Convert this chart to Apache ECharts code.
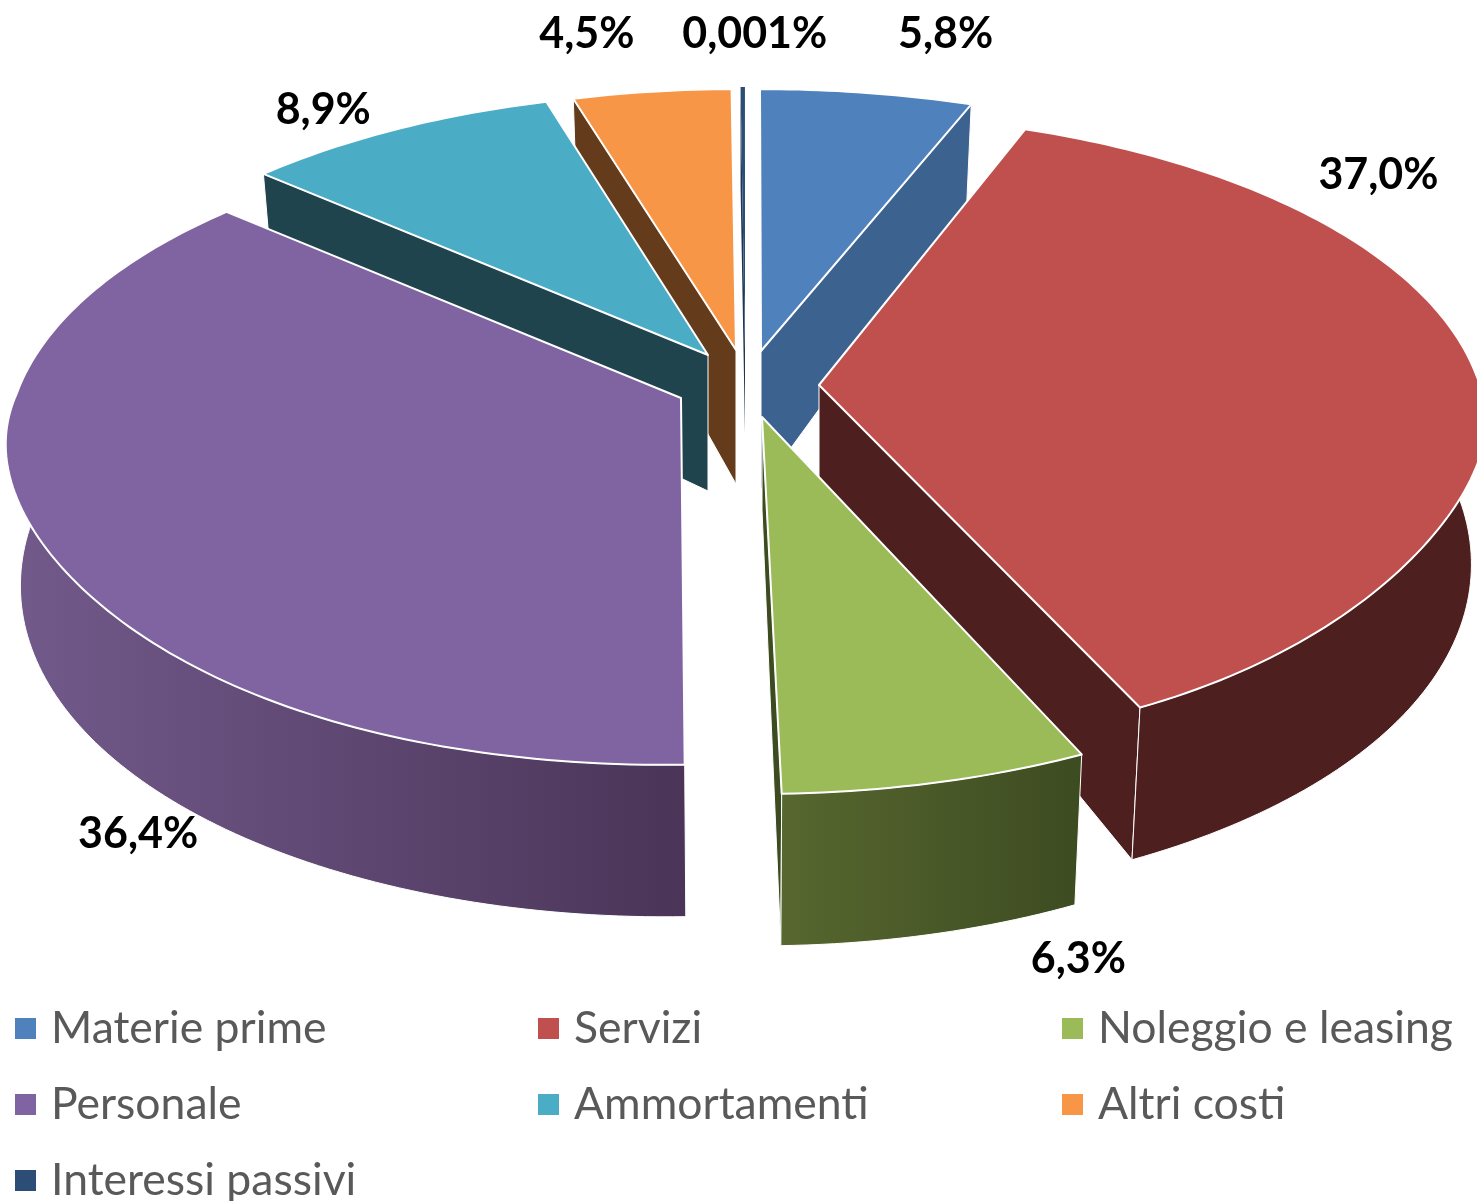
<!DOCTYPE html>
<html>
<head>
<meta charset="utf-8">
<style>html,body{margin:0;padding:0;background:#fff}#c{width:1477px;height:1201px}</style>
<script src="https://cdn.jsdelivr.net/npm/echarts@6/dist/echarts.min.js"></script>
</head>
<body>
<div id="c"></div>
<script>
// ---- data ----
const categories = ['Materie prime','Servizi','Noleggio e leasing','Personale','Ammortamenti','Altri costi','Interessi passivi'];
const values = [5.8, 37.0, 6.3, 36.4, 8.9, 4.5, 0.001];
const labelDecimals = [1, 1, 1, 1, 1, 1, 3];

// ---- styles ----
const topColors  = ['#4f81bd','#c0504d','#9bbb59','#8064a2','#4bacc6','#f79646','#2c4d75'];
const wallStart  = ['#3c6290','#4e1f1f','#57672f','#725a8b','#1f444e','#653c1b','#1f3654'];
const wallEnd    = ['#3c6290','#4e1f1f','#3d4b21','#4a3558','#1f444e','#653c1b','#1f3654'];
const drawOrder  = [5, 6, 4, 0, 3, 1, 2];
// which faces of each wedge look towards the viewer
const showStartWall = [false,false,false,false,true,true,true];
const showEndWall   = [true,true,true,false,false,false,false];
const showRimWall   = [false,true,true,true,false,false,false];

// ---- 3D geometry of the exploded disc (style parameters) ----
const radiusX = 655, radiusY = 308, persp = 0.1716, vanishX = 740, bottomScale = 0.98;
const minSweep = 0.45;
const apex = [[761,351],[819,385],[762,417],[681,398],[708,355],[736,350],[745,350]];
const apexDepth = [138, 93, 93, 92, 136, 134, 83];
const rimShift = [[-1,1],[3,-8],[-1,5],[-9,-5],[1,0],[0,2],[0,0]];
const rimScaleX = [1.04,1,1,1,1,1,1];
const rimShear = [0,-3,0,-8,0,0,0];
const rimBulge = [0,-70,0,-40,0,0,0];
const labelNudge = [[82,-58],[-92,-201],[140,182],[96,294],[-73,-19],[-65,-56],[12,-53]];

const total = values.reduce((a, b) => a + b, 0);
const sweeps = values.map(v => Math.max(minSweep, v / total * (360 - minSweep)));
const starts = [];
sweeps.reduce((acc, s, i) => (starts[i] = acc, acc + s), 0);

function basePoint(i, deg) {
  const t = deg * Math.PI / 180, u = -Math.cos(t), s = 1 / (1 - persp * u);
  return [apex[i][0] + radiusX * Math.sin(t) * s, apex[i][1] + radiusY * u * s];
}
function rimPoint(i, deg) {
  const t = deg * Math.PI / 180, u = -Math.cos(t), s = 1 / (1 - persp * u);
  return [apex[i][0] + rimShift[i][0] + radiusX * rimScaleX[i] * Math.sin(t) * s + rimShear[i] * Math.max(0, u),
          apex[i][1] + rimShift[i][1] + radiusY * u * s];
}
function topPoint(i, deg) {
  const p = rimPoint(i, deg), t = deg * Math.PI / 180, sn = Math.sin(t);
  return [p[0], p[1] + rimBulge[i] * Math.max(0, -Math.cos(t)) * sn * sn * sn * sn];
}
function bottomPoint(i, deg) {
  const p = rimPoint(i, deg), u = -Math.cos(deg * Math.PI / 180);
  return [vanishX + (p[0] - vanishX) * bottomScale, p[1] + 130 + 26 * u - 4 * u * u];
}
function arc(fn, i, a0, a1) {
  const n = Math.max(2, Math.ceil(Math.abs(a1 - a0))), pts = [];
  for (let k = 0; k <= n; k++) pts.push(fn(i, a0 + (a1 - a0) * k / n));
  return pts;
}
function fmt(i) { return values[i].toFixed(labelDecimals[i]).replace('.', ',') + '%'; }

function renderSlice(i) {
  return function () {
    const a0 = starts[i], a1 = a0 + sweeps[i];
    const top = arc(topPoint, i, a0, a1), bot = arc(bottomPoint, i, a0, a1);
    const ap = apex[i], apB = [ap[0], ap[1] + apexDepth[i]];
    const thin = sweeps[i] < 2;
    const wallStroke = thin ? {} : { stroke: '#fff', lineWidth: 1, lineJoin: 'round' };
    const rimFill = wallStart[i] === wallEnd[i] ? wallEnd[i] :
      new echarts.graphic.LinearGradient(0, 0, 1, 0, [{offset:0,color:wallStart[i]},{offset:1,color:wallEnd[i]}]);
    const poly = (points, style) => ({ type:'polygon', shape:{ points }, style });
    const mid = basePoint(i, a0 + sweeps[i] / 2);
    const children = [];
    if (showStartWall[i]) children.push(poly([ap, top[0], bot[0], apB], Object.assign({ fill: wallEnd[i] }, wallStroke)));
    if (showEndWall[i]) children.push(poly([ap, top[top.length-1], bot[bot.length-1], apB], Object.assign({ fill: wallEnd[i] }, wallStroke)));
    if (showRimWall[i]) children.push(poly(top.concat(bot.slice().reverse()), Object.assign({ fill: rimFill }, wallStroke)));
    children.push(poly([ap].concat(top), { fill: topColors[i], stroke:'#fff', lineWidth: thin ? 0 : 2, lineJoin:'round' }));
    children.push({ type:'text', z2: 100, style:{
      text: fmt(i), x: mid[0] + labelNudge[i][0], y: mid[1] + labelNudge[i][1],
      fill:'#000', font:'bold 43px Lato', align:'center', verticalAlign:'middle' } });
    return { type:'group', children };
  };
}

const chart = echarts.init(document.getElementById('c'), null, { renderer:'canvas', width:1477, height:1201 });
const legendBase = {
  orient:'vertical', top:1006, height:400, padding:0, itemWidth:21, itemHeight:21, itemGap:31, icon:'rect', selectedMode:false,
  textStyle:{ fontFamily:'Lato', fontSize:44.5, color:'#595959', padding:[0,0,0,10] }
};
chart.setOption({
  animation:false,
  backgroundColor:'#fff',
  legend:[
    Object.assign({}, legendBase, { left:15,   data:[categories[0],categories[3],categories[6]] }),
    Object.assign({}, legendBase, { left:538,  data:[categories[1],categories[4]] }),
    Object.assign({}, legendBase, { left:1062, data:[categories[2],categories[5]] })
  ],
  series: drawOrder.map(i => ({
    type:'custom', name:categories[i], coordinateSystem:'none', silent:true,
    itemStyle:{ color:topColors[i] },
    data:[[values[i]]],
    renderItem: renderSlice(i)
  }))
});
</script>
</body>
</html>
